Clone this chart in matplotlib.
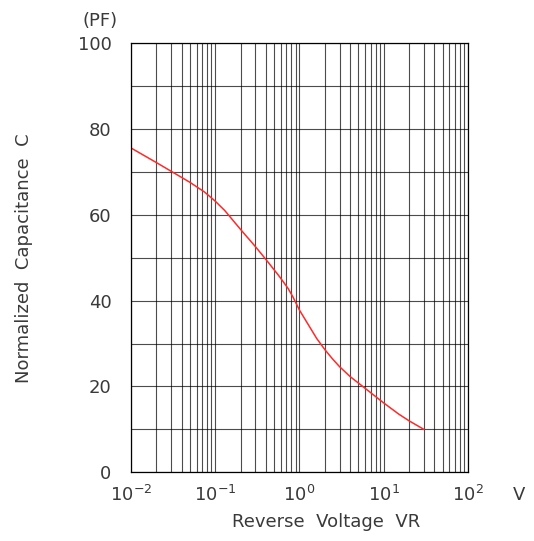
import matplotlib
matplotlib.use("Agg")
import matplotlib.pyplot as plt
from matplotlib.ticker import FixedLocator, LogLocator, NullFormatter

# Data
voltage = [0.01, 0.02, 0.031, 0.05, 0.075, 0.1, 0.13, 0.2, 0.3, 0.4, 0.58,
           0.73, 0.835, 1.0, 1.32, 1.6, 2.0, 2.5, 3.0, 4.0, 5.4, 7.5,
           9.8, 15, 20, 30]
capacitance = [75.6, 72.2, 70.0, 67.6, 65.3, 63.2, 61.0, 56.6, 52.6, 49.6, 45.6,
               42.9, 40.9, 37.8, 33.9, 31.2, 28.6, 26.3, 24.6, 22.3, 20.3, 18.1,
               16.3, 13.6, 12.0, 10.0]

x_ticks = [1e-2, 1e-1, 1e0, 1e1, 1e2]
x_tick_labels = ["$10^{-2}$", "$10^{-1}$", "$10^{0}$", "$10^{1}$", "$10^{2}$"]
y_ticks = [0, 20, 40, 60, 80, 100]
y_minor = [10, 30, 50, 70, 90]

text_color = "#3a3a3a"
plt.rcParams["font.family"] = ["DejaVu Sans"]
plt.rcParams["mathtext.fontset"] = "dejavusans"

fig = plt.figure(figsize=(5.34, 5.41), dpi=100)
ax = fig.add_axes([0.2453, 0.127, 0.631, 0.793])

ax.set_xscale("log")
ax.set_xlim(1e-2, 1e2)
ax.set_ylim(0, 100)

ax.xaxis.set_major_locator(FixedLocator(x_ticks))
ax.xaxis.set_minor_locator(LogLocator(base=10, subs=range(2, 10)))
ax.xaxis.set_minor_formatter(NullFormatter())
ax.set_xticklabels(x_tick_labels)
ax.yaxis.set_major_locator(FixedLocator(y_ticks))
ax.yaxis.set_minor_locator(FixedLocator(y_minor))

ax.grid(True, which="both", color="black", linewidth=0.8, alpha=0.7)
ax.set_axisbelow(True)
ax.tick_params(which="both", length=0, labelsize=13, labelcolor=text_color)
ax.tick_params(axis="x", pad=9)
ax.tick_params(axis="y", pad=14)
for s in ax.spines.values():
    s.set_linewidth(0.9)
    s.set_color("black")

ax.plot(voltage, capacitance, color="#ff2a2a", linewidth=1.1)

ax.set_xlabel("Reverse  Voltage  VR", fontsize=13, color=text_color)
ax.xaxis.set_label_coords(0.579, -0.095)
ax.set_ylabel("Normalized  Capacitance  C", fontsize=13, color=text_color, labelpad=32)

ax.annotate("V", xy=(1.0, 0.0), xycoords="axes fraction", xytext=(37, -16),
            textcoords="offset points", fontsize=13, color=text_color,
            ha="center", va="center")
ax.annotate("(PF)", xy=(0.0, 1.0), xycoords="axes fraction", xytext=(-22, 16),
            textcoords="offset points", fontsize=13, color=text_color,
            ha="center", va="center")

fig.savefig("out.png", dpi=100)
